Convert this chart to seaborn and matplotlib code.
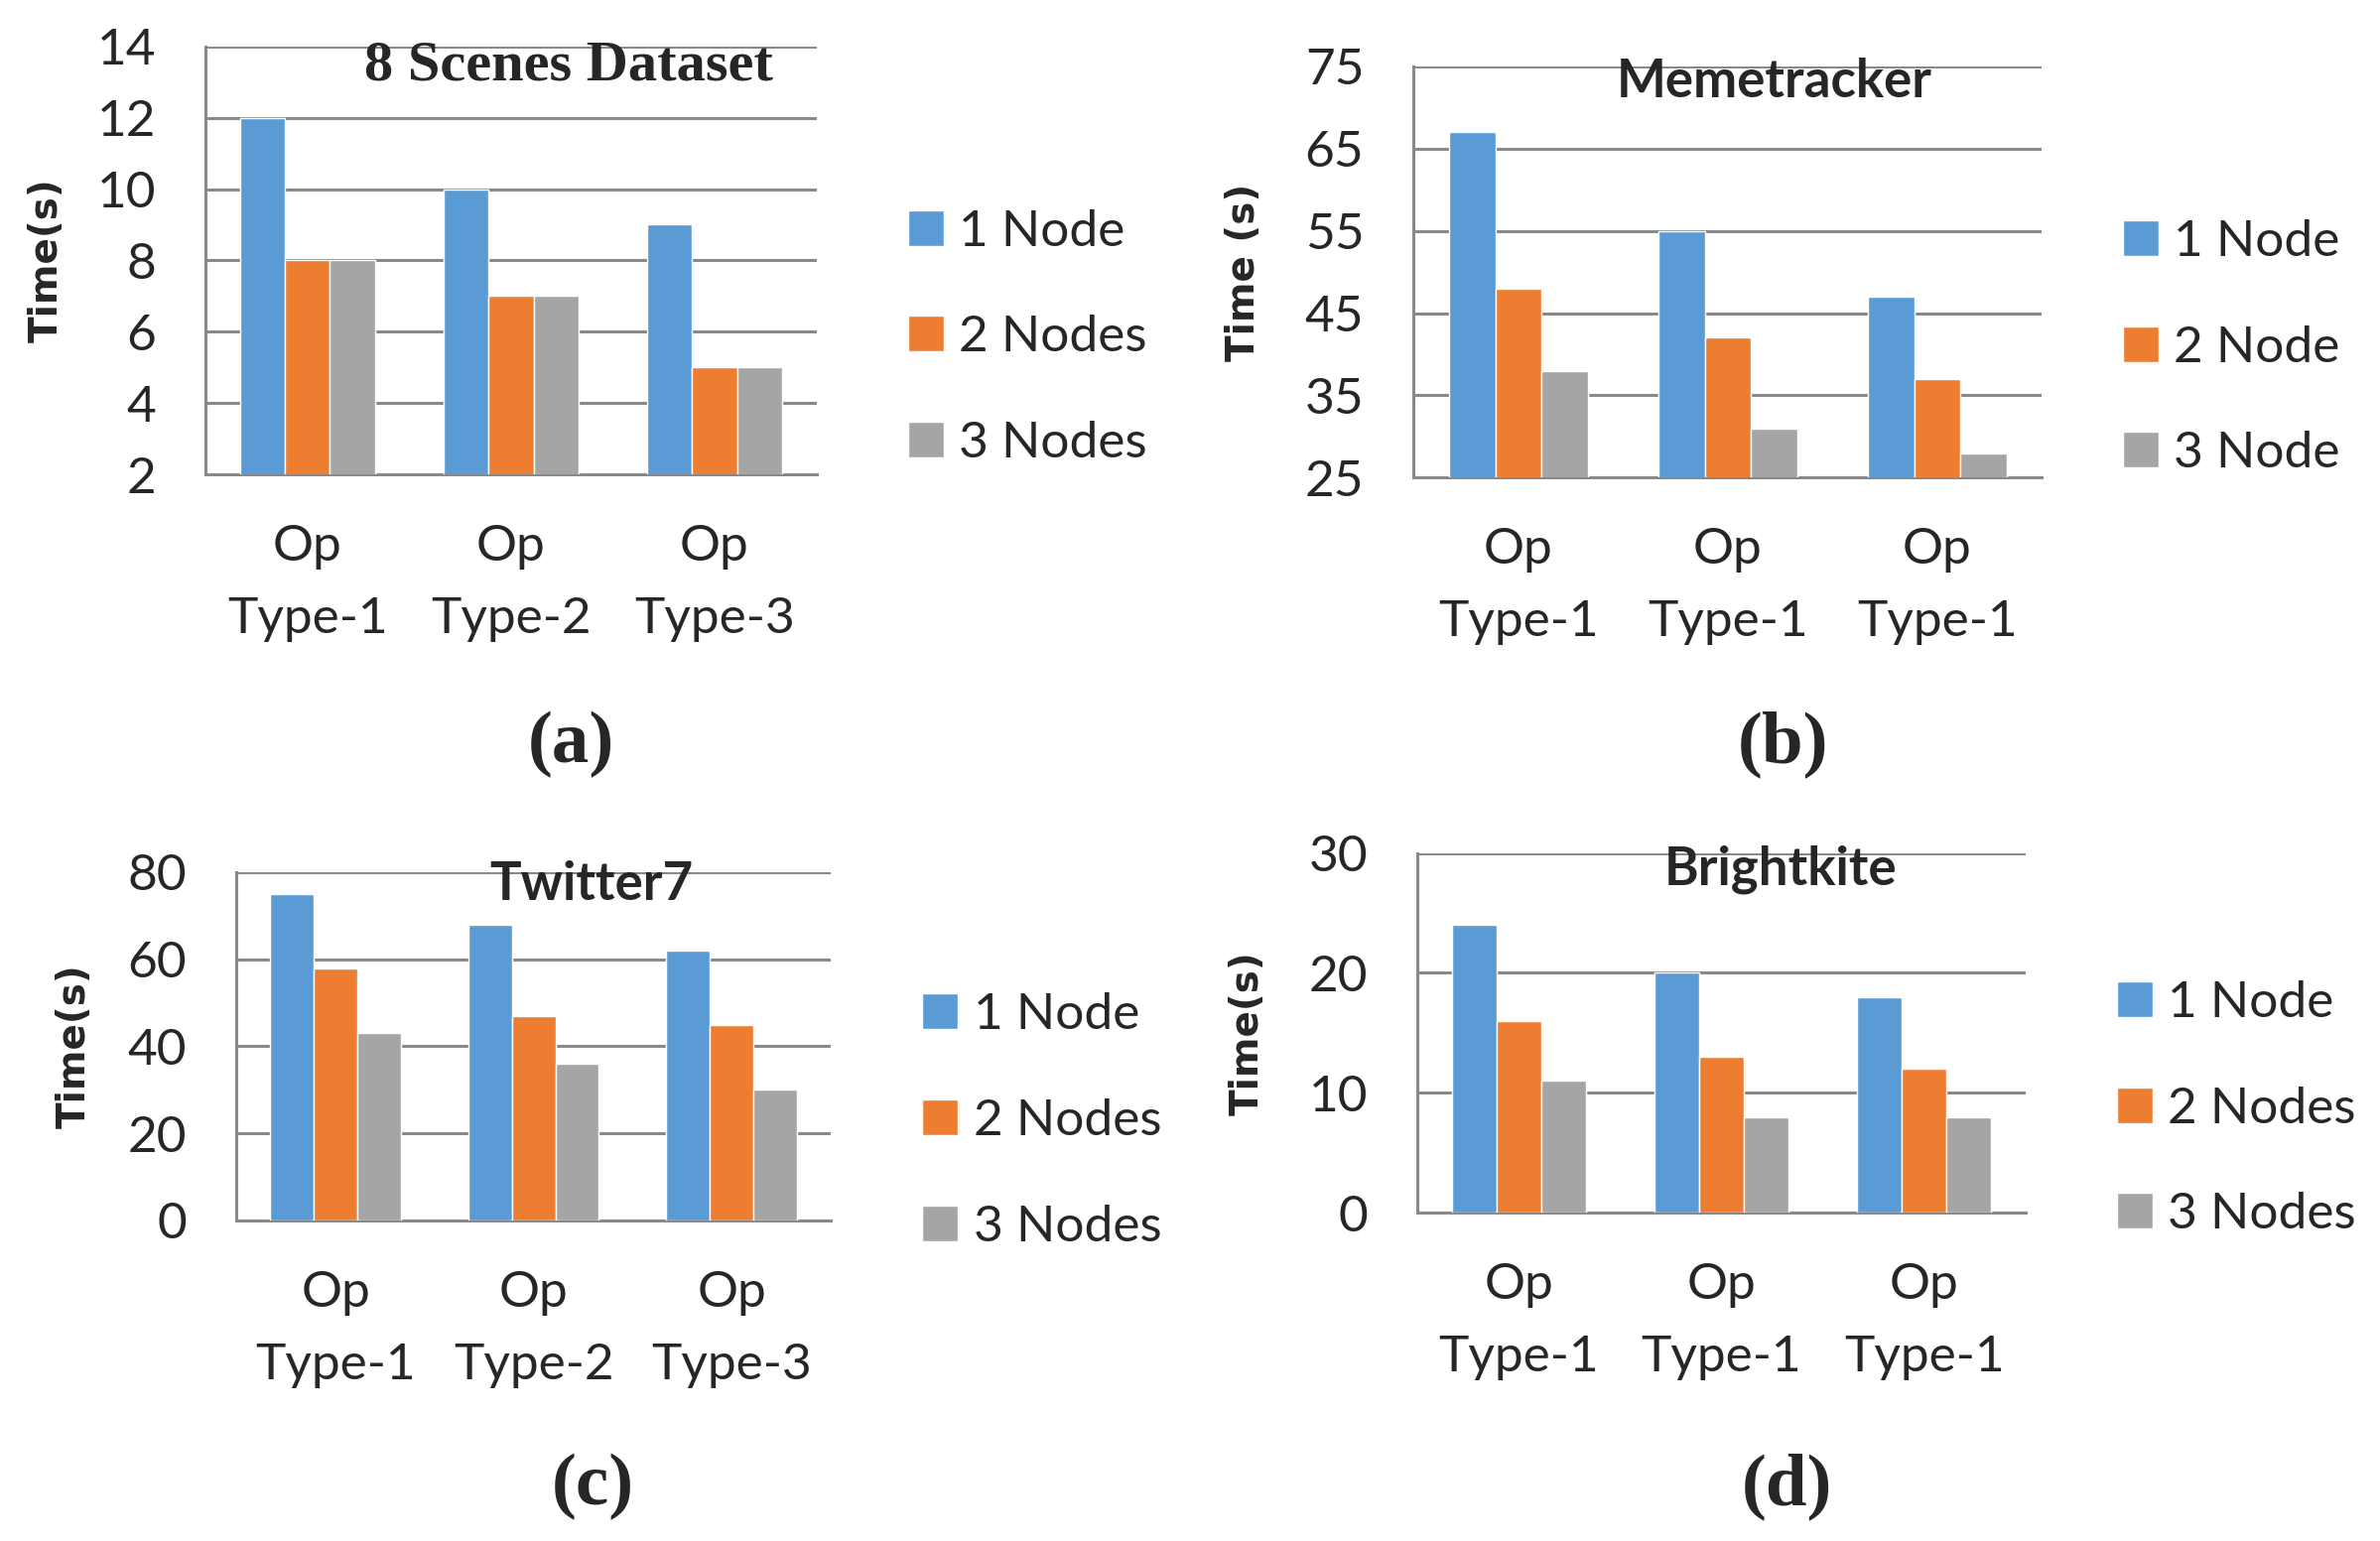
"""
Execution time by number of nodes for four datasets (2x2 bar panels).
"""
import numpy as np
import pandas as pd
import matplotlib
matplotlib.use('Agg')
import matplotlib.pyplot as plt
import seaborn as sns

# ---- data ----
series_a = ['1 Node', '2 Nodes', '3 Nodes']
series_b = ['1 Node', '2 Node', '3 Node']
ops_distinct = ['Op\nType-1', 'Op\nType-2', 'Op\nType-3']
ops_same = ['Op\nType-1', 'Op\nType-1', 'Op\nType-1']

scenes_1 = [12, 10, 9]
scenes_2 = [8, 7, 5]
scenes_3 = [8, 7, 5]

meme_1 = [67, 55, 47]
meme_2 = [48, 42, 37]
meme_3 = [38, 31, 28]

twitter_1 = [75, 68, 62]
twitter_2 = [58, 47, 45]
twitter_3 = [43, 36, 30]

bright_1 = [24, 20, 18]
bright_2 = [16, 13, 12]
bright_3 = [11, 8, 8]

yticks_a = [2, 4, 6, 8, 10, 12, 14]
yticks_b = [25, 35, 45, 55, 65, 75]
yticks_c = [0, 20, 40, 60, 80]
yticks_d = [0, 10, 20, 30]

COLORS = ['#5B9BD5', '#ED7D31', '#A5A5A5']
GRID = '#898989'
SANS = 'Lato'


def make_frame(series, values):
    rows = []
    for name, vals in zip(series, values):
        for i, v in enumerate(vals):
            rows.append({'group': i, 'nodes': name, 'time': v})
    return pd.DataFrame(rows)


def draw_panel(fig, rect, series, values, xlabels, yticks, ylabel,
               title, title_xy, title_font, leg_xy, ylab_x, tag, tag_xy):
    ax = fig.add_axes(rect)
    df = make_frame(series, values)
    sns.barplot(data=df, x='group', y='time', hue='nodes', hue_order=series,
                palette=COLORS, width=0.66, saturation=1, ax=ax,
                errorbar=None, zorder=3)
    ax.set_ylim(yticks[0], yticks[-1])
    ax.set_yticks(yticks)
    ax.set_xlim(-0.5, 2.5)
    ax.set_xticks(range(3))
    ax.set_xticklabels(xlabels, fontsize=37, family=SANS, linespacing=1.72)
    ax.set_xticks([-0.5, 0.5, 1.5, 2.5], minor=True)
    ax.tick_params(axis='x', which='major', length=0, pad=36)
    ax.tick_params(axis='x', which='minor', length=17, width=2.2, color=GRID)
    ax.tick_params(axis='y', length=12, width=2.2, color=GRID, pad=24,
                   labelsize=37)
    for lab in ax.get_yticklabels():
        lab.set_family(SANS)
    ax.set_xlabel('')
    ax.set_ylabel(ylabel, fontsize=28, fontweight='bold', family='DejaVu Sans')
    ax.yaxis.set_label_coords(ylab_x, 0.5)

    ax.grid(axis='y', color=GRID, linewidth=2.2, zorder=0)
    ax.grid(axis='x', visible=False)
    ax.set_axisbelow(True)
    for side in ['top', 'right']:
        ax.spines[side].set_visible(False)
    for side in ['left', 'bottom']:
        ax.spines[side].set_color(GRID)
        ax.spines[side].set_linewidth(2.2)
    ax.set_facecolor('white')

    ax.text(title_xy[0], title_xy[1], title, transform=ax.transAxes,
            ha='center', va='center', fontweight='bold', **title_font)

    handles, labels = ax.get_legend_handles_labels()
    ax.legend(handles, labels, loc='center left', bbox_to_anchor=leg_xy,
              frameon=False, handlelength=0.7, handleheight=0.7,
              handletextpad=0.3, labelspacing=1.18,
              prop={'family': SANS, 'size': 37})

    fig.text(tag_xy[0], tag_xy[1], tag, ha='center', va='center',
             fontsize=54, family='Liberation Serif', fontweight='bold')
    return ax


def main():
    sns.set_theme(style='white')
    plt.rcParams['font.family'] = [SANS, 'DejaVu Sans']
    fig = plt.figure(figsize=(23.98, 15.53), dpi=100)

    draw_panel(fig, [0.0865, 0.692, 0.2565, 0.278], series_a,
               [scenes_1, scenes_2, scenes_3], ops_distinct, yticks_a,
               'Time(s)', '8 Scenes Dataset', (0.595, 0.955),
               {'family': 'Liberation Serif', 'fontsize': 42},
               (1.075, 0.32), -0.23, '(a)', (0.240, 0.517))

    draw_panel(fig, [0.594, 0.690, 0.264, 0.267], series_b,
               [meme_1, meme_2, meme_3], ops_same, yticks_b,
               'Time (s)', 'Memetracker', (0.574, 0.962),
               {'family': SANS, 'fontsize': 38},
               (1.055, 0.315), -0.241, '(b)', (0.749, 0.517))

    draw_panel(fig, [0.0994, 0.208, 0.2496, 0.226], series_a,
               [twitter_1, twitter_2, twitter_3], ops_distinct, yticks_c,
               'Time(s)', 'Twitter7', (0.597, 0.963),
               {'family': SANS, 'fontsize': 38},
               (1.077, 0.285), -0.241, '(c)', (0.249, 0.035))

    draw_panel(fig, [0.5955, 0.213, 0.2555, 0.2335], series_a,
               [bright_1, bright_2, bright_3], ops_same, yticks_d,
               'Time(s)', 'Brightkite', (0.598, 0.953),
               {'family': SANS, 'fontsize': 38},
               (1.075, 0.288), -0.249, '(d)', (0.751, 0.035))

    fig.savefig('out.png', dpi=100, facecolor='white')
    plt.close(fig)


if __name__ == '__main__':
    main()
